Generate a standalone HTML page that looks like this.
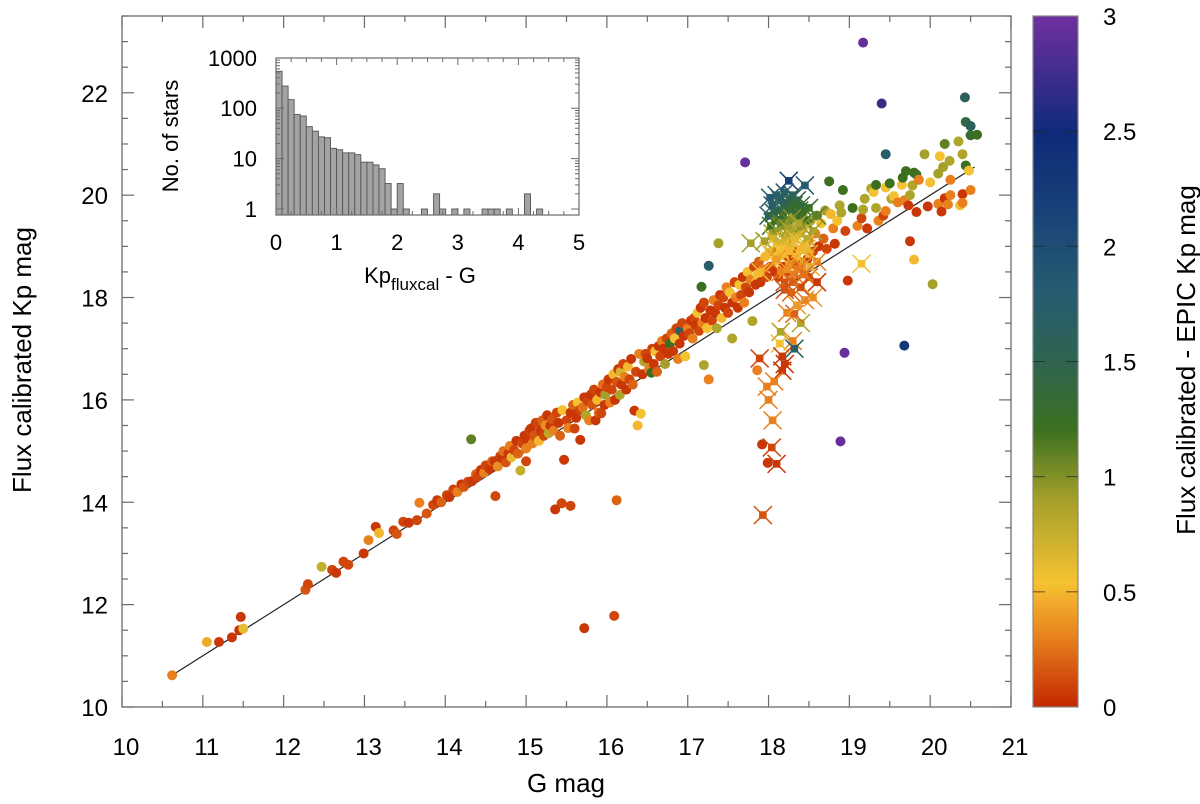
<!DOCTYPE html>
<html><head><meta charset="utf-8"><style>
html,body{margin:0;padding:0;background:#fff}
svg{display:block;font-family:"Liberation Sans",sans-serif}
</style></head><body>
<svg id="chart" width="1200" height="804" viewBox="0 0 1200 804" xmlns="http://www.w3.org/2000/svg">
<defs>
<linearGradient id="cbg" x1="0" y1="1" x2="0" y2="0">
<stop offset="0" stop-color="#c22800"/><stop offset="0.1" stop-color="#e8801e"/><stop offset="0.18" stop-color="#f6c232"/><stop offset="0.3" stop-color="#a4a02a"/><stop offset="0.4" stop-color="#3c7020"/><stop offset="0.5" stop-color="#2e6450"/><stop offset="0.6" stop-color="#275c70"/><stop offset="0.73" stop-color="#163f78"/><stop offset="0.83" stop-color="#0e2a78"/><stop offset="1" stop-color="#7030a0"/>
</linearGradient>
</defs>
<g id="plot"></g>
<g id="inset"></g>
<g id="cbar"></g>
</svg>
<script>
// ---- main scatter data (G mag, flux-calibrated Kp mag, colour = Kp diff) ----
const gMag = [
10.62,11.05,11.2,11.36,11.45,11.47,11.5,12.27,12.3,12.47,12.6,12.65,12.74,12.8,12.99,13.05,13.14,13.18,13.36,13.4,13.48,13.55,13.65,13.68,13.77,
13.85,13.9,13.95,14.02,14.05,14.1,14.15,14.2,14.23,14.28,14.32,14.33,14.38,14.4,14.44,14.48,14.5,14.55,14.58,14.61,14.62,14.65,14.68,14.7,14.72,14.75,14.78,14.8,14.82,14.85,14.88,14.9,14.93,14.95,14.98,15.0,15.0,
15.02,15.04,15.06,15.08,15.1,15.12,15.14,15.16,15.18,15.2,15.22,15.24,15.26,15.28,15.3,15.32,15.34,15.36,15.38,15.4,15.42,15.44,15.45,15.47,15.5,15.52,15.55,15.55,15.58,15.6,15.62,15.64,15.66,15.67,15.7,15.72,15.72,15.74,15.76,15.78,15.8,15.82,15.84,15.86,15.88,15.9,15.92,15.93,15.95,15.97,15.98,16.0,
16.02,16.04,16.06,16.08,16.09,16.1,16.12,16.12,16.14,16.16,16.17,16.18,16.2,16.22,16.24,16.26,16.28,16.3,16.32,16.34,16.36,16.38,16.4,16.42,16.44,16.46,16.48,16.5,16.52,16.55,16.56,16.58,16.6,16.62,16.64,16.66,16.68,16.7,16.72,16.74,16.76,16.78,16.8,16.82,16.84,16.86,16.88,16.9,16.91,16.93,16.95,16.97,17.0,
17.02,17.04,17.06,17.08,17.1,17.12,17.14,17.16,17.17,17.18,17.2,17.2,17.22,17.24,17.26,17.26,17.28,17.3,17.32,17.34,17.36,17.38,17.38,17.4,17.42,17.44,17.46,17.48,17.5,17.52,17.55,17.55,17.58,17.6,17.62,17.64,17.66,17.68,17.7,17.71,17.72,17.74,17.76,17.78,17.8,17.82,17.84,17.86,17.86,17.88,17.9,17.92,17.94,17.96,17.98,17.99,
18.02,18.05,18.08,18.1,18.12,18.15,18.18,18.2,18.22,18.25,18.28,18.3,18.32,18.35,18.38,18.4,18.42,18.45,18.48,18.5,18.52,18.55,18.58,18.6,18.62,18.65,18.68,18.7,18.72,18.75,18.77,18.8,18.82,18.85,18.88,18.9,18.92,18.94,18.89,18.95,18.98,
19.04,19.1,19.15,19.17,19.17,19.19,19.22,19.27,19.3,19.33,19.33,19.36,19.4,19.42,19.45,19.45,19.45,19.5,19.52,19.55,19.6,19.65,19.66,19.68,19.68,19.7,19.73,19.75,19.75,19.78,19.8,19.8,19.83,19.83,19.86,19.93,19.97,20.0,20.03,20.1,20.1,20.12,20.14,20.16,20.18,20.18,20.22,20.24,20.25,20.25,20.35,20.37,20.4,20.4,20.4,20.43,20.44,20.44,20.48,20.5,20.5,20.5,20.58
];
const kpMag = [
10.62,11.27,11.27,11.36,11.5,11.76,11.53,12.29,12.4,12.74,12.68,12.62,12.84,12.78,13.0,13.26,13.52,13.4,13.45,13.38,13.62,13.6,13.65,13.99,13.78,
13.95,14.04,14.0,14.14,14.1,14.25,14.2,14.35,14.3,14.4,15.23,14.41,14.55,14.5,14.63,14.58,14.72,14.65,14.8,14.8,14.12,14.7,14.9,14.86,15.0,14.78,14.95,15.1,14.88,15.02,15.2,14.95,14.62,15.15,15.3,14.8,15.05,
15.25,15.4,15.44,15.15,15.3,15.55,15.55,15.2,15.4,15.6,15.3,15.5,15.7,15.35,15.5,15.62,15.4,13.86,15.75,15.55,15.3,13.98,15.8,14.83,15.6,15.45,13.93,15.75,15.9,15.44,15.65,15.95,15.8,15.22,15.85,11.54,16.05,15.7,15.98,15.6,16.1,15.9,16.2,15.6,16.0,15.75,16.15,15.74,16.3,15.9,16.1,16.25,
16.4,15.95,16.2,16.5,11.78,16.0,14.04,16.35,16.6,16.1,16.55,16.3,16.7,16.45,16.2,16.65,16.4,16.8,16.3,15.79,16.55,15.5,16.9,15.73,16.5,16.75,16.9,16.81,16.6,16.53,17.0,16.7,16.95,16.55,17.05,16.85,17.15,17.0,16.7,17.2,16.9,17.1,17.3,16.95,17.2,17.4,16.8,17.1,17.35,17.5,17.25,16.85,17.4,
17.3,17.55,17.2,17.6,17.45,17.7,17.35,17.8,18.21,17.5,16.68,17.9,17.6,17.4,18.62,16.4,17.75,17.55,17.95,17.7,17.4,19.06,17.85,18.05,17.6,18.0,17.8,18.2,17.7,18.1,17.2,17.9,18.3,18.0,17.8,18.25,18.05,18.4,17.9,20.64,18.2,18.5,18.1,18.35,17.54,18.6,18.25,16.58,18.45,18.7,18.3,15.13,18.55,18.8,18.4,14.77,
18.6,18.9,18.5,18.8,18.4,18.95,18.6,19.0,18.5,18.8,19.1,18.65,19.2,18.9,18.7,19.3,18.95,19.4,18.75,19.1,19.5,18.9,19.25,19.6,19.0,19.45,19.15,19.7,18.95,20.27,19.63,19.35,19.05,19.5,19.8,19.66,20.1,16.92,15.19,19.3,18.33,
19.75,19.4,19.55,22.98,19.72,19.93,19.35,20.13,20.06,20.2,19.75,19.5,21.79,19.6,20.8,20.15,19.69,20.23,19.93,19.98,19.86,20.2,20.34,19.9,17.06,20.47,19.8,20.0,19.1,20.19,20.44,18.74,20.4,19.67,20.3,20.8,19.78,20.25,18.26,20.42,19.83,20.76,19.68,20.55,21.0,19.94,19.82,20.67,20.3,20.0,21.05,19.8,20.8,20.02,19.85,21.91,21.43,20.58,20.48,21.35,21.17,20.1,21.18
];
const colorDiff = [
0.3,0.45,0.05,0.05,0.05,0.05,0.6,0.15,0.1,0.75,0.1,0.05,0.1,0.1,0.05,0.3,0.05,0.5,0.1,0.15,0.1,0.05,0.1,0.3,0.15,
0.1,0.05,0.2,0.1,0.05,0.1,0.3,0.05,0.15,0.1,1.1,0.05,0.2,0.1,0.05,0.3,0.1,0.05,0.2,0.05,0.1,0.35,0.1,0.05,0.25,0.15,0.05,0.3,0.6,0.1,0.05,0.2,0.75,0.1,0.05,0.1,0.3,
0.05,0.1,0.05,0.3,0.15,0.05,0.1,0.5,0.05,0.2,0.1,0.35,0.05,0.8,0.05,0.15,0.3,0.05,0.1,0.05,0.2,0.1,0.55,0.05,0.1,0.3,0.1,0.05,0.2,0.1,0.05,0.55,0.1,0.05,0.25,0.05,0.05,0.85,0.1,0.3,0.05,0.15,0.1,0.05,0.5,0.2,0.05,0.1,0.25,0.05,0.9,0.1,
0.05,0.3,0.1,0.5,0.1,0.05,0.2,0.15,0.05,0.85,0.7,0.05,0.1,0.3,0.05,0.5,0.1,0.05,0.2,0.05,0.1,0.5,0.3,0.55,0.05,0.85,0.1,0.05,0.3,1.2,0.1,0.05,0.55,0.2,0.05,0.1,0.3,0.05,0.9,0.1,0.05,1.2,0.2,0.05,0.55,0.1,0.3,0.05,1.7,0.1,0.05,0.55,0.3,
0.1,0.05,0.3,0.1,0.05,0.55,0.1,0.05,1.2,0.3,0.85,0.1,0.05,0.55,1.75,0.3,0.05,0.1,0.3,0.05,0.85,0.9,0.1,0.05,0.5,0.1,0.05,0.3,0.1,0.55,0.85,0.05,0.1,0.3,0.05,0.55,0.1,0.05,0.3,2.95,0.1,0.55,0.05,0.3,0.85,0.1,0.05,0.3,0.55,0.2,0.05,0.05,0.3,0.5,0.1,0.05,
0.1,0.3,0.05,0.55,0.1,0.3,0.05,0.5,0.1,0.05,0.3,0.1,0.55,0.05,0.2,0.3,0.1,0.55,0.05,0.3,0.85,0.1,0.3,1.1,0.05,0.55,0.2,0.9,0.1,1.2,0.5,0.3,0.05,0.55,0.85,0.85,1.2,2.95,2.95,0.1,0.05,
1.2,0.3,0.1,2.95,0.85,0.85,0.05,0.85,0.55,1.2,0.85,0.3,2.7,0.1,1.75,0.55,0.3,1.2,0.85,0.55,0.3,0.55,1.2,0.3,2.3,1.2,0.05,0.85,0.05,0.85,1.2,0.5,1.2,0.05,0.3,0.9,0.05,0.55,0.9,0.9,0.3,0.55,0.05,0.9,1.1,0.05,0.3,0.85,0.3,0.3,0.85,0.55,0.85,0.05,0.3,1.6,1.4,1.2,0.55,1.6,1.3,0.3,1.2
];
// ---- cross-marked stars ----
const crossG = [17.89,17.93,17.98,18.0,18.05,18.04,18.1,18.17,18.2,18.07,18.15,18.4,18.32,18.23,18.3,18.32,18.14,18.17,19.15,
18.25,18.45,18.1,18.2,18.3,18.15,18.35,18.05,18.22,18.4,18.12,18.28,18.5,18.0,18.18,18.35,18.08,18.25,18.45,18.6,18.15,18.32,17.95,18.05,18.22,18.4,18.55,18.1,18.28,18.45,18.0,18.18,18.35,18.5,18.08,18.25,18.42,18.6,18.15,18.32,18.5,18.2,18.4,18.6,18.28,18.45,18.35,18.55,17.78,17.9,
18.02,18.13,18.27,18.38,18.07,18.19,18.31,18.43,18.03,18.16,18.29,18.41,18.11,18.24,18.37,18.48,18.06,18.21,18.33,18.47,18.14,18.26,18.39,18.52,18.1,18.23,18.36,18.3,18.2,18.44];
const crossKp = [16.81,13.75,16.26,16.0,15.6,15.07,14.75,16.57,16.7,16.36,17.33,17.5,17.68,17.7,17.15,17.0,17.1,16.85,18.66,
20.28,20.19,20.0,20.05,20.0,19.9,19.9,19.8,19.85,19.8,19.7,19.72,19.75,19.6,19.6,19.6,19.5,19.5,19.5,19.6,19.4,19.35,19.1,19.25,19.2,19.25,19.3,19.05,19.0,19.05,18.9,18.85,18.8,18.85,18.7,18.65,18.6,18.7,18.5,18.45,18.4,18.3,18.2,18.3,18.1,17.95,17.85,18.0,19.06,18.5,
19.95,19.95,19.92,19.7,19.65,19.75,19.8,19.65,19.4,19.45,19.55,19.4,19.3,19.35,19.45,19.15,19.15,19.1,19.15,18.95,18.95,18.9,18.95,18.6,18.75,18.55,18.55,18.3,18.15,18.45];
const crossC = [0.1,0.15,0.3,0.3,0.3,0.1,0.05,0.05,0.05,0.3,0.85,0.85,0.2,0.3,0.3,1.7,0.55,0.05,0.55,
2.2,1.8,1.7,1.75,1.6,1.8,1.5,1.9,1.6,1.4,1.5,1.4,1.3,1.7,1.3,1.2,1.2,1.1,1.2,1.1,1.0,0.9,0.9,0.9,0.8,0.75,0.9,0.65,0.6,0.55,0.6,0.55,0.5,0.45,0.5,0.4,0.35,0.3,0.3,0.25,0.2,0.15,0.1,0.05,0.2,0.3,0.4,0.35,0.9,0.5,
1.8,1.7,1.6,1.4,1.5,1.4,1.3,1.2,1.2,1.1,1.0,1.0,0.95,0.9,0.85,0.8,0.7,0.7,0.65,0.6,0.55,0.5,0.5,0.45,0.4,0.35,0.3,0.2,0.15,0.25];
// ---- inset histogram ----
const histBins = [0,0.1,0.2,0.3,0.4,0.5,0.6,0.7,0.8,0.9,1.0,1.1,1.2,1.3,1.4,1.5,1.6,1.7,1.8,1.9,2.0,2.1,2.4,2.6,2.7,2.9,3.1,3.4,3.5,3.6,3.8,4.1,4.3];
const histCounts = [540,275,148,75,70,43,35,27,26,16,15,13,13,12,8.5,8.5,7.5,6.3,3.2,1,3.2,1,1,2,1,1,1,1,1,1,1,2,1];
const xTicks = [10,11,12,13,14,15,16,17,18,19,20,21];
const yTicks = [10,12,14,16,18,20,22];
const cbTicks = [0,0.5,1,1.5,2,2.5,3];
const insetXTicks = [0,1,2,3,4,5];
const insetYTicks = [1,10,100,1000];
const refLine = [10.6,20.55];

const NS="http://www.w3.org/2000/svg";
function mk(parent,tag,attrs,text){const e=document.createElementNS(NS,tag);for(const k in attrs)e.setAttribute(k,attrs[k]);if(text!==undefined)e.textContent=text;parent.appendChild(e);return e;}
const L=122,R=1011,T=16,B=707;
const X=g=>L+(g-10)*(R-L)/11;
const Y=k=>B-(k-10)*(B-T)/13.5;
const stops=[[0,[194,40,0]],[0.3,[232,128,30]],[0.54,[246,194,50]],[0.9,[164,160,42]],[1.2,[60,112,32]],[1.5,[46,100,80]],[1.8,[39,92,112]],[2.2,[22,63,120]],[2.5,[14,42,120]],[3,[112,48,160]]];
function cmap(v){v=Math.max(0,Math.min(3,v));for(let i=1;i<stops.length;i++){if(v<=stops[i][0]){const a=stops[i-1],b=stops[i];const t=(v-a[0])/(b[0]-a[0]);const c=a[1].map((x,j)=>Math.round(x+(b[1][j]-x)*t));return `rgb(${c[0]},${c[1]},${c[2]})`;}}return 'rgb(112,48,160)';}

const plot=document.getElementById('plot');
const fr=mk(plot,'rect',{x:L,y:T,width:R-L,height:B-T,fill:'none',stroke:'#6b6b6b','stroke-width':1.3});


for(let v=10;v<=21.001;v+=0.5){const x=X(v);const maj=Math.abs(v-Math.round(v))<0.01;const len=maj?12:6;
mk(plot,'line',{x1:x,y1:B,x2:x,y2:B-len,stroke:'#6b6b6b','stroke-width':1.2});
mk(plot,'line',{x1:x,y1:T,x2:x,y2:T+len,stroke:'#6b6b6b','stroke-width':1.2});}
xTicks.forEach(v=>{const t=mk(plot,'text',{x:X(v)+4,y:755,'font-size':24,'text-anchor':'middle',fill:'#000'},String(v));

});
for(let v=10;v<=23.5;v+=0.5){const y=Y(v);const maj=Math.abs(v/2-Math.round(v/2))<0.01;const len=maj?12:6;
mk(plot,'line',{x1:L,y1:y,x2:L+len,y2:y,stroke:'#6b6b6b','stroke-width':1.2});
mk(plot,'line',{x1:R,y1:y,x2:R-len,y2:y,stroke:'#6b6b6b','stroke-width':1.2});}
yTicks.forEach(v=>{const t=mk(plot,'text',{x:108,y:Y(v)+9,'font-size':24,'text-anchor':'end',fill:'#000'},String(v));

});
const xt=mk(plot,'text',{x:566,y:792,'font-size':26,'text-anchor':'middle'},'G mag');


const yt=mk(plot,'text',{x:0,y:0,'font-size':26,'text-anchor':'middle',transform:'translate(31,360) rotate(-90)'},'Flux calibrated Kp mag');


const rl=mk(plot,'line',{x1:X(refLine[0]),y1:Y(refLine[0]),x2:X(refLine[1]),y2:Y(refLine[1]),stroke:'#222','stroke-width':1.2});


for(let i=0;i<gMag.length;i++){
const c=mk(plot,'circle',{cx:X(gMag[i]),cy:Y(kpMag[i]),r:5,fill:cmap(colorDiff[i])});

}
for(let i=0;i<crossG.length;i++){
const x=X(crossG[i]),y=Y(crossKp[i]),col=cmap(crossC[i]);
const g=mk(plot,'g',{});


mk(g,'line',{x1:x-9,y1:y-9,x2:x+9,y2:y+9,stroke:col,'stroke-width':1.5});
mk(g,'line',{x1:x-9,y1:y+9,x2:x+9,y2:y-9,stroke:col,'stroke-width':1.5});
mk(g,'rect',{x:x-3.8,y:y-3.8,width:7.6,height:7.6,fill:col});}

const ins=document.getElementById('inset');
const IL=276,IR=579,IT=58,IB=215;
const IX=v=>IL+v*(IR-IL)/5;
const IY=c=>209-Math.log10(c)*50.4;
mk(ins,'rect',{x:IL,y:IT,width:IR-IL,height:IB-IT,fill:'#fff',stroke:'none'});
for(let i=0;i<histBins.length;i++){
const b=mk(ins,'rect',{x:IX(histBins[i]),y:IY(histCounts[i]),width:IX(0.1)-IX(0),height:IB-IY(histCounts[i]),fill:'#a3a3a3',stroke:'#555','stroke-width':0.9});

}
const ifr=mk(ins,'rect',{x:IL,y:IT,width:IR-IL,height:IB-IT,fill:'none',stroke:'#6b6b6b','stroke-width':1.2});


for(let v=0;v<=5.001;v+=0.25){const x=IX(v);const len=(Math.abs(v-Math.round(v))<0.01)?7:4;
mk(ins,'line',{x1:x,y1:IB,x2:x,y2:IB-len,stroke:'#6b6b6b'});mk(ins,'line',{x1:x,y1:IT,x2:x,y2:IT+len,stroke:'#6b6b6b'});}
for(let d=0;d<3;d++){for(let m=1;m<10;m++){const y=IY(Math.pow(10,d)*m);if(y<IT)continue;const len=m===1?8:4;
mk(ins,'line',{x1:IL,y1:y,x2:IL+len,y2:y,stroke:'#6b6b6b'});mk(ins,'line',{x1:IR,y1:y,x2:IR-len,y2:y,stroke:'#6b6b6b'});}}
insetXTicks.forEach(v=>{const t=mk(ins,'text',{x:IX(v),y:250,'font-size':22,'text-anchor':'middle'},String(v));

});
insetYTicks.forEach(v=>{const t=mk(ins,'text',{x:257,y:IY(v)+8,'font-size':22,'text-anchor':'end'},String(v));

});
const ixt=mk(ins,'text',{x:420,y:283,'font-size':22,'text-anchor':'middle'});


ixt.innerHTML='Kp<tspan font-size="17" dy="7">fluxcal</tspan><tspan dy="-7"> - G</tspan>';
const iyt=mk(ins,'text',{x:0,y:0,'font-size':22,'text-anchor':'middle',transform:'translate(178,136) rotate(-90)'},'No. of stars');



const cb=document.getElementById('cbar');
const CL=1033,CR=1078;
const CY=v=>B-v*(B-T)/3;
const cr=mk(cb,'rect',{x:CL,y:T,width:CR-CL,height:B-T,fill:'url(#cbg)',stroke:'#888','stroke-width':1.2});


cbTicks.forEach(v=>{const y=CY(v);
if(v>0&&v<3){mk(cb,'line',{x1:CL,y1:y,x2:CL+12,y2:y,stroke:'#222','stroke-opacity':0.7});mk(cb,'line',{x1:CR,y1:y,x2:CR-12,y2:y,stroke:'#222','stroke-opacity':0.7});}
const t=mk(cb,'text',{x:1103,y:y+9,'font-size':24},String(v));

});
const ct=mk(cb,'text',{x:0,y:0,'font-size':26,'text-anchor':'middle',transform:'translate(1195,360) rotate(-90)'},'Flux calibrated - EPIC Kp mag');


</script>
</body></html>
